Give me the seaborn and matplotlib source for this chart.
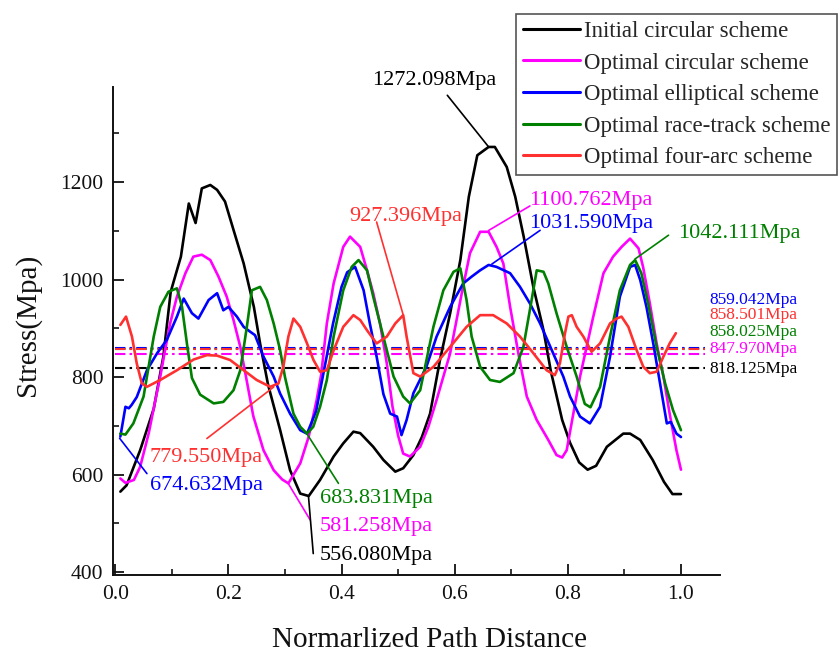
import matplotlib
matplotlib.use("Agg")
import matplotlib.pyplot as plt
import seaborn as sns
import numpy as np

# ---- stress along the normalized path for each scheme ----
x_initial = [0.009, 0.02, 0.044, 0.068, 0.085, 0.098, 0.116, 0.13, 0.142, 0.153, 0.168, 0.18,
             0.194, 0.209, 0.227, 0.245, 0.256, 0.27, 0.2915, 0.309, 0.327, 0.342, 0.362, 0.386,
             0.403, 0.421, 0.433, 0.456, 0.474, 0.495, 0.509, 0.527, 0.542, 0.5565, 0.574, 0.592,
             0.61, 0.625, 0.64, 0.66, 0.671, 0.692, 0.707, 0.722, 0.739, 0.757, 0.77, 0.79, 0.804,
             0.82, 0.835, 0.85, 0.869, 0.898, 0.91, 0.928, 0.95, 0.97, 0.985, 1.0]
s_initial = [565, 578, 650, 735, 842, 975, 1047, 1156, 1116, 1187, 1194, 1184,
             1160, 1102, 1033, 944, 869, 785, 691, 609, 561, 556, 589, 637,
             664, 688, 685, 657, 630, 606, 613, 640, 677, 725, 835, 931,
             1040, 1170, 1255, 1272, 1272, 1231, 1170, 1088, 985, 896, 812, 712, 665,
             625, 610, 618, 657, 684, 684, 671, 630, 585, 560, 560]

x_circular = [0.009, 0.018, 0.033, 0.044, 0.059, 0.071, 0.0795, 0.088, 0.097, 0.109, 0.124, 0.138,
              0.153, 0.168, 0.1825, 0.197, 0.209, 0.221, 0.232, 0.244, 0.262, 0.28, 0.295, 0.306,
              0.327, 0.342, 0.356, 0.364, 0.374, 0.386, 0.403, 0.415, 0.433, 0.445, 0.456, 0.468,
              0.48, 0.49, 0.50, 0.509, 0.521, 0.539, 0.5535, 0.568, 0.592, 0.6125, 0.627, 0.645,
              0.66, 0.674, 0.686, 0.698, 0.7125, 0.7275, 0.745, 0.765, 0.78, 0.79, 0.798, 0.8216,
              0.845, 0.863, 0.88, 0.895, 0.91, 0.925, 0.933, 0.945, 0.957, 0.969, 0.98, 0.992, 1.0]
s_circular = [592, 583, 589, 616, 684, 753, 801, 855, 910, 965, 1013, 1047,
              1051, 1040, 1006, 965, 917, 862, 795, 720, 650, 609, 590, 582,
              623, 678, 753, 805, 910, 992, 1067, 1088, 1067, 1019, 972, 910,
              828, 740, 680, 643, 637, 657, 698, 753, 849, 972, 1054, 1098,
              1098, 1067, 1033, 944, 849, 760, 712, 672, 640, 635, 650, 801,
              924, 1013, 1047, 1067, 1084, 1064, 1026, 951, 869, 801, 725, 650, 610]

x_elliptical = [0.009, 0.018, 0.024, 0.029, 0.038, 0.056, 0.074, 0.091, 0.109, 0.121, 0.1355, 0.147,
                0.165, 0.18, 0.191, 0.2, 0.215, 0.227, 0.2385, 0.247, 0.262, 0.28, 0.2915, 0.309,
                0.327, 0.339, 0.355, 0.37, 0.385, 0.40, 0.41, 0.424, 0.439, 0.45, 0.462, 0.474,
                0.486, 0.498, 0.506, 0.515, 0.527, 0.55, 0.568, 0.592, 0.615, 0.63, 0.645, 0.66,
                0.674, 0.698, 0.7155, 0.733, 0.751, 0.774, 0.792, 0.804, 0.8216, 0.839, 0.857, 0.8746,
                0.892, 0.91, 0.919, 0.928, 0.939, 0.951, 0.963, 0.975, 0.982, 0.992, 1.0]
s_elliptical = [678, 739, 736, 743, 759, 814, 849, 876, 924, 961, 931, 920,
                958, 972, 937, 944, 924, 903, 893, 886, 842, 801, 766, 725,
                691, 684, 730, 820, 910, 985, 1015, 1026, 978, 910, 842, 765,
                725, 719, 681, 712, 767, 821, 883, 944, 992, 1006, 1019, 1030,
                1026, 1013, 985, 951, 910, 849, 801, 760, 719, 705, 739, 842,
                965, 1026, 1030, 999, 944, 869, 787, 705, 708, 684, 677]

x_racetrack = [0.009, 0.018, 0.032, 0.05, 0.068, 0.0795, 0.094, 0.109, 0.118, 0.127, 0.1355, 0.15,
               0.174, 0.191, 0.209, 0.221, 0.2326, 0.2415, 0.256, 0.268, 0.28, 0.2915, 0.30, 0.315,
               0.327, 0.339, 0.35, 0.362, 0.374, 0.386, 0.403, 0.418, 0.43, 0.445, 0.456, 0.468,
               0.48, 0.492, 0.509, 0.521, 0.539, 0.5624, 0.58, 0.598, 0.61, 0.621, 0.63, 0.645,
               0.6625, 0.68, 0.704, 0.7215, 0.736, 0.745, 0.757, 0.7655, 0.78, 0.798, 0.8156, 0.83,
               0.84, 0.857, 0.8746, 0.892, 0.91, 0.919, 0.93, 0.942, 0.957, 0.972, 0.986, 1.0]
s_racetrack = [684, 682, 705, 760, 883, 944, 975, 982, 944, 866, 798, 764,
               746, 749, 773, 814, 903, 978, 985, 958, 910, 855, 800, 725,
               698, 684, 698, 739, 794, 883, 978, 1026, 1040, 1019, 965, 910,
               855, 801, 760, 746, 773, 903, 978, 1016, 1023, 958, 883, 821,
               794, 790, 808, 862, 958, 1019, 1016, 992, 931, 862, 801, 745,
               738, 780, 883, 978, 1030, 1040, 1013, 951, 862, 787, 732, 691]

x_fourarc = [0.009, 0.019, 0.0295, 0.038, 0.047, 0.056, 0.0795, 0.109, 0.1385, 0.162, 0.18, 0.203,
             0.227, 0.25, 0.274, 0.2885, 0.297, 0.306, 0.315, 0.327, 0.339, 0.3504, 0.362, 0.374,
             0.386, 0.403, 0.421, 0.433, 0.445, 0.462, 0.48, 0.495, 0.509, 0.515, 0.527, 0.539,
             0.5624, 0.592, 0.621, 0.645, 0.668, 0.692, 0.7155, 0.739, 0.7625, 0.777, 0.786, 0.795,
             0.801, 0.807, 0.8156, 0.8275, 0.842, 0.857, 0.8746, 0.886, 0.895, 0.907, 0.9217, 0.9335,
             0.945, 0.957, 0.969, 0.98, 0.991]
s_fourarc = [907, 924, 883, 828, 787, 780, 794, 814, 836, 845, 844, 835,
             814, 794, 780, 787, 821, 883, 920, 903, 869, 835, 811, 814,
             855, 903, 927, 917, 896, 869, 883, 910, 927, 883, 808, 801,
             821, 862, 903, 927, 927, 910, 883, 849, 814, 804, 828, 890,
             924, 927, 903, 883, 852, 869, 910, 920, 924, 903, 855, 821,
             808, 811, 842, 869, 890]

schemes = ["Initial circular scheme", "Optimal circular scheme", "Optimal elliptical scheme",
           "Optimal race-track scheme", "Optimal four-arc scheme"]
colors = ["#000000", "#ff00ff", "#0000ff", "#008000", "#ff3030"]

# mean stress of each scheme (drawn as dash-dot reference lines)
mean_values = [818.125, 847.970, 859.042, 858.025, 858.501]
mean_colors = ["#000000", "#ff00ff", "#0000ff", "#008000", "#ff3030"]
# label stacking order on the right side: blue, red, green, magenta, black
mean_label_order = [2, 4, 3, 1, 0]
mean_label_y = [959, 927, 893, 857, 816]

# extreme-value callouts: (text, colour, point x, point y, text x, text y, leader start x, leader start y, ha)
callouts = [
    ("1272.098Mpa", "#000000", 0.66, 1272.098, 0.5636, 1409, 0.587, 1378, "center"),
    ("1100.762Mpa", "#ff00ff", 0.66, 1100.762, 0.841, 1163, 0.733, 1151, "center"),
    ("1031.590Mpa", "#0000ff", 0.6655, 1031.590, 0.841, 1116, 0.751, 1101, "center"),
    ("1042.111Mpa", "#008000", 0.9187, 1042.111, 0.995, 1095, 0.978, 1091, "left"),
    ("927.396Mpa", "#ff3030", 0.509, 927.396, 0.514, 1130, 0.462, 1118, "center"),
    ("779.550Mpa", "#ff3030", 0.28, 779.550, 0.161, 636, 0.162, 674, "center"),
    ("674.632Mpa", "#0000ff", 0.0076, 674.632, 0.161, 578, 0.056, 602, "center"),
    ("683.831Mpa", "#008000", 0.3387, 683.831, 0.461, 550, 0.3945, 582, "center"),
    ("581.258Mpa", "#ff00ff", 0.306, 581.258, 0.461, 494, 0.3445, 507, "center"),
    ("556.080Mpa", "#000000", 0.3415, 556.080, 0.461, 435, 0.35, 438, "center"),
]

sns.set_style("ticks")
plt.rcParams["font.family"] = ["Liberation Serif", "DejaVu Serif"]

fig = plt.figure(figsize=(8.38, 6.53), dpi=100)
ax = fig.add_axes([113 / 838, 1 - 575 / 653, 607 / 838, 488 / 653])

series = [(x_initial, s_initial), (x_circular, s_circular), (x_elliptical, s_elliptical),
          (x_racetrack, s_racetrack), (x_fourarc, s_fourarc)]
for (xs, ys), name, c in zip(series, schemes, colors):
    sns.lineplot(x=xs, y=ys, color=c, linewidth=1.9, label=name, ax=ax,
                 estimator=None, sort=False)

# mean lines
for v, c in zip(mean_values, mean_colors):
    ax.plot([0.0, 1.042], [v, v], color=c, linewidth=1.5,
            linestyle=(0, (5, 2, 1.2, 2)), zorder=1.5)
for idx, ly in zip(mean_label_order, mean_label_y):
    ax.text(1.05, ly, f"{mean_values[idx]:.3f}Mpa", color=mean_colors[idx],
            fontsize=12.5, ha="left", va="center", clip_on=False)

# callouts
for txt, c, px, py, tx, ty, sx, sy, ha in callouts:
    ax.text(tx, ty, txt, color=c, fontsize=16, ha=ha, va="center", clip_on=False)
    ax.annotate("", xy=(px, py), xytext=(sx, sy),
                arrowprops=dict(arrowstyle="-", color=c, lw=1.2, shrinkA=0, shrinkB=0),
                annotation_clip=False)

ax.set_xlim(-0.004, 1.069)
ax.set_ylim(394, 1395)
ax.set_xticks([0.0, 0.2, 0.4, 0.6, 0.8, 1.0])
ax.set_xticks(np.arange(0.1, 1.0, 0.2), minor=True)
ax.set_yticks([400, 600, 800, 1000, 1200])
ax.set_yticks([500, 700, 900, 1100, 1300], minor=True)
ax.set_xticklabels(["0.0", "0.2", "0.4", "0.6", "0.8", "1.0"])
ax.tick_params(axis="both", which="major", direction="in", length=8, width=1.3,
               labelsize=15.5, pad=7, colors="#111111")
ax.tick_params(axis="both", which="minor", direction="in", length=4, width=1.3)
for side in ["top", "right"]:
    ax.spines[side].set_visible(False)
for side in ["left", "bottom"]:
    ax.spines[side].set_linewidth(1.4)
    ax.spines[side].set_color("#111111")

ax.set_xlabel("Normarlized Path Distance", fontsize=21, color="#111111")
ax.set_ylabel("Stress(Mpa)", fontsize=21, color="#111111")
ax.xaxis.set_label_coords(0.522, -0.106)
ax.yaxis.set_label_coords(-0.118, 0.513)

handles, labels = ax.get_legend_handles_labels()
ax.legend_.remove()
leg = fig.legend(handles[:5], labels[:5], loc="upper left",
                 bbox_to_anchor=(516 / 838, 1 - 14 / 653), bbox_transform=fig.transFigure,
                 fontsize=16.5, frameon=True, fancybox=False, framealpha=1,
                 edgecolor="#555555", handlelength=2.5, handletextpad=0.15,
                 borderpad=0.3, labelspacing=0.46, borderaxespad=0)
leg.get_frame().set_linewidth(1.2)
for line in leg.get_lines():
    line.set_linewidth(2.2)

fig.savefig("out.png", dpi=100)
